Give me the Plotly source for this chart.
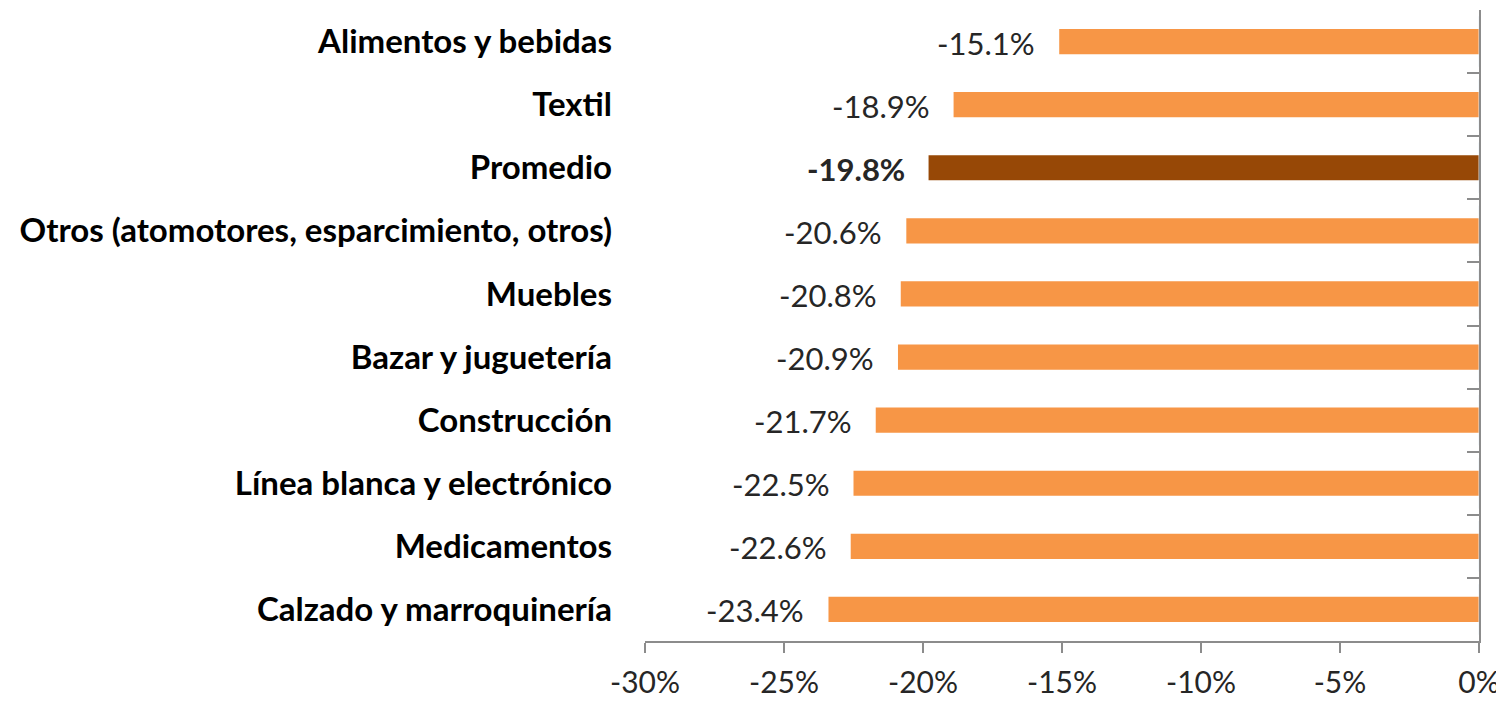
import plotly.graph_objects as go

categories = [
    "Alimentos y bebidas",
    "Textil",
    "Promedio",
    "Otros (atomotores, esparcimiento, otros)",
    "Muebles",
    "Bazar y juguetería",
    "Construcción",
    "Línea blanca y electrónico",
    "Medicamentos",
    "Calzado y marroquinería",
]
values = [-15.1, -18.9, -19.8, -20.6, -20.8, -20.9, -21.7, -22.5, -22.6, -23.4]
highlight = "Promedio"
x_tickvals = [-30, -25, -20, -15, -10, -5, 0]
x_ticktext = ["-30%", "-25%", "-20%", "-15%", "-10%", "-5%", "0%"]

ORANGE = "#F79646"
DARK = "#974806"
AXIS = "#8C8C8C"
FONT = "Lato, Carlito, 'Open Sans', sans-serif"

colors = [DARK if c == highlight else ORANGE for c in categories]
texts = [(f"<b>{v:.1f}%</b>" if c == highlight else f"{v:.1f}%") for c, v in zip(categories, values)]
ticklabels = [f"<b>{c}</b>" for c in categories]

fig = go.Figure()
fig.add_trace(go.Bar(
    y=categories, x=values, orientation="h",
    marker=dict(color=colors, line=dict(width=0)),
    width=0.4,
    hoverinfo="skip",
))
# invisible trace for the right-side axis (ticks at boundaries)
fig.add_trace(go.Bar(
    y=categories, x=[0] * len(categories), orientation="h",
    yaxis="y2", marker=dict(color="rgba(0,0,0,0)"), showlegend=False, hoverinfo="skip",
))

for c, v, t in zip(categories, values, texts):
    fig.add_annotation(
        x=v, y=c, xref="x", yref="y", text=t, showarrow=False,
        xanchor="right", yanchor="middle", xshift=-22, yshift=-1,
        font=dict(family=FONT, size=31, color="#262626"),
    )

fig.update_layout(
    width=1496, height=694,
    margin=dict(l=637, r=25, t=2, b=61, autoexpand=False),
    paper_bgcolor="white", plot_bgcolor="white",
    showlegend=False,
    barmode="overlay",
    font=dict(family=FONT, color="#000000"),
    xaxis=dict(
        range=[-30, 0], tickvals=x_tickvals, ticktext=x_ticktext,
        showgrid=False, zeroline=False, automargin=False,
        showline=True, linecolor=AXIS, linewidth=1.5,
        ticks="outside", ticklen=10, tickcolor=AXIS, tickwidth=1.5,
        tickfont=dict(family=FONT, size=30, color="#262626"),
        ticklabelstandoff=4,
    ),
    yaxis=dict(
        type="category", categoryorder="array", categoryarray=categories,
        tickvals=categories, ticktext=ticklabels,
        autorange="reversed", automargin=False,
        showgrid=False, zeroline=False, showline=False, ticks="",
        tickfont=dict(family=FONT, size=33, color="#000000"),
        ticklabelstandoff=32,
    ),
    yaxis2=dict(
        type="category", categoryorder="array", categoryarray=categories,
        autorange="reversed", overlaying="y", side="right", automargin=False,
        showgrid=False, zeroline=False, showticklabels=False,
        showline=True, linecolor=AXIS, linewidth=1.5,
        ticks="inside", tickson="boundaries", ticklen=12, tickcolor=AXIS, tickwidth=1.5,
    ),
)

fig.write_html("out.html")
